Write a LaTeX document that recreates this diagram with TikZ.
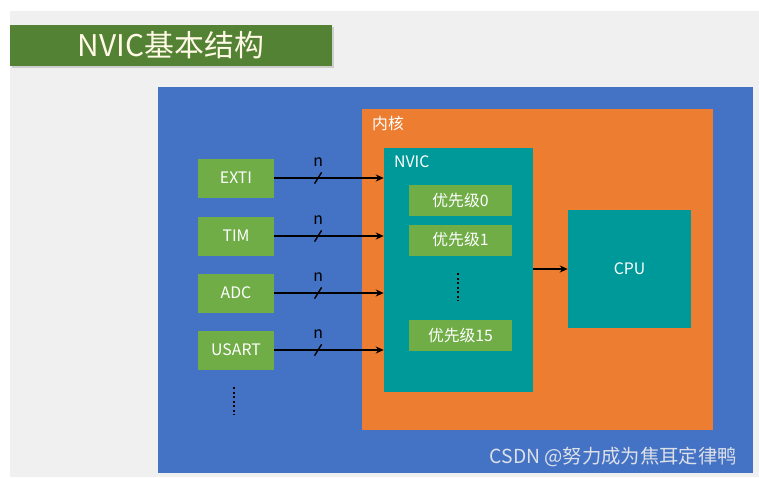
\documentclass[tikz,border=0pt]{standalone}
\usepackage{fontspec}
\setmainfont{Noto Sans CJK SC}
\usetikzlibrary{positioning,arrows.meta,shadows}
\definecolor{bggray}{HTML}{F0F0F0}
\definecolor{titlegreen}{HTML}{548235}
\definecolor{titletext}{HTML}{FFF9E6}
\definecolor{chipblue}{HTML}{4472C4}
\definecolor{coreorange}{HTML}{ED7D31}
\definecolor{nvicteal}{HTML}{009999}
\definecolor{srcgreen}{HTML}{70AD47}
\definecolor{marktext}{HTML}{DCE0E8}

\begin{document}
\begin{tikzpicture}[x=0.02cm,y=-0.02cm,>={Stealth[length=4.5pt,width=4pt]},font=\fontsize{9}{11}\selectfont,
  box/.style={fill=#1,inner sep=0pt,text=white},
  src/.style={box=srcgreen,minimum width=1.52cm,minimum height=0.78cm},
  prio/.style={box=srcgreen,minimum width=2.06cm,minimum height=0.62cm},
  link/.style={->,line width=1.1pt},
  vdots/.style={line width=1pt,dash pattern=on 1.1pt off 1.5pt}]

\useasboundingbox (0,0) rectangle (759,477);
\fill[white] (0,0) rectangle (759,477);
\fill[bggray] (10,11) rectangle (759,477);

% title bar
\node[box=titlegreen,text=titletext,minimum width=6.44cm,minimum height=0.82cm,
  drop shadow={opacity=0.3,shadow xshift=1.2pt,shadow yshift=-1.2pt},
  font=\fontsize{17}{20}\selectfont] (title) at (171,45.5) {NVIC基本结构};

% chip, core, nvic
\node[box=chipblue,minimum width=11.9cm,minimum height=7.72cm] (chip) at (455.5,280) {};
\node[box=coreorange,minimum width=7.02cm,minimum height=6.42cm] (core) at (537.5,269.5) {};
\node[anchor=north west,text=white] (corelbl) at (366,110) {内核};
\node[box=nvicteal,minimum width=2.98cm,minimum height=4.88cm] (nvic) at (458.5,270) {};
\node[anchor=north west,text=white] (nviclbl) at (388,149) {NVIC};
\foreach \n/\t/\y in {p0/优先级0/200.5,p1/优先级1/240,p15/优先级15/335.5}
  \node[prio] (\n) at (460.5,\y) {\t};
\draw[vdots] (458,273) -- (458,301);

% cpu
\node[box=nvicteal,minimum width=2.46cm,minimum height=2.36cm] (cpu) at (629.5,269) {CPU};
\draw[link] (nvic.east |- cpu.west) -- (cpu.west);

% interrupt sources
\foreach \n/\y in {EXTI/178,TIM/236,ADC/293,USART/350} {
  \node[src] (\n) at (236,\y) {\n};
  \draw[link] (\n.east) -- coordinate[pos=0.4] (\n-m) (\n.east -| nvic.west);
  \draw[line width=0.8pt] ([xshift=-2pt,yshift=-3.2pt]\n-m) -- ([xshift=2pt,yshift=3.2pt]\n-m);
  \node (\n-n) at ([yshift=9pt]\n-m) {n};
}
\draw[vdots] (234,387) -- (234,415);

\node[anchor=east,text=marktext,font=\fontsize{11}{13}\selectfont] (mark) at (743,457) {CSDN @努力成为焦耳定律鸭};
\end{tikzpicture}
\end{document}
